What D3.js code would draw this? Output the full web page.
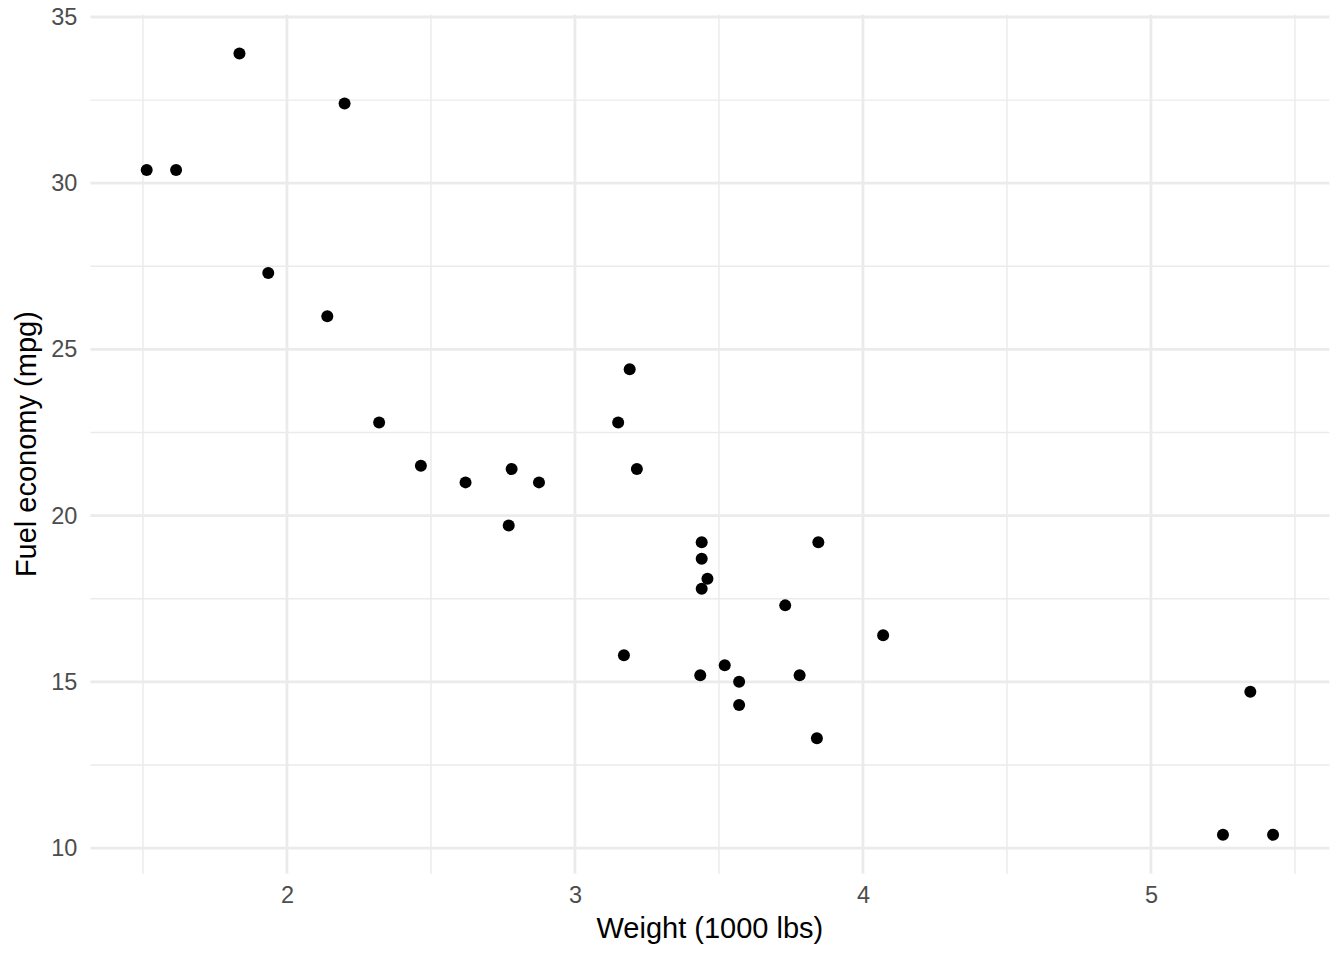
<!DOCTYPE html>
<html>
<head>
<meta charset="utf-8">
<script src="https://cdn.jsdelivr.net/npm/d3@7"></script>
<style>
  body { margin: 0; background: #fff; }
  svg { display: block; font-family: "Liberation Sans", Arial, sans-serif; }
</style>
</head>
<body>
<svg id="chart"></svg>
<script>
const width = 1344,
  height = 960

// mtcars: weight (1000 lbs) and fuel economy (mpg)
const weight = [2.620, 2.875, 2.320, 3.215, 3.440, 3.460, 3.570, 3.190, 3.150, 3.440,
  3.440, 4.070, 3.730, 3.780, 5.250, 5.424, 5.345, 2.200, 1.615, 1.835,
  2.465, 3.520, 3.435, 3.840, 3.845, 1.935, 2.140, 1.513, 3.170, 2.770,
  3.570, 2.780]
const mpg = [21.0, 21.0, 22.8, 21.4, 18.7, 18.1, 14.3, 24.4, 22.8, 19.2,
  17.8, 16.4, 17.3, 15.2, 10.4, 10.4, 14.7, 32.4, 30.4, 33.9,
  21.5, 15.5, 15.2, 13.3, 19.2, 27.3, 26.0, 30.4, 15.8, 19.7,
  15.0, 21.4]

const xTicks = [2, 3, 4, 5],
  xMinor = [1.5, 2.5, 3.5, 4.5, 5.5],
  yTicks = [10, 15, 20, 25, 30, 35],
  yMinor = [12.5, 17.5, 22.5, 27.5, 32.5]

const xTitle = 'Weight (1000 lbs)',
  yTitle = 'Fuel economy (mpg)'

const margin = { top: 14.5, right: 14.6, bottom: 86.2, left: 90.4 }

let points = weight.map((w, i) => ({ wt: w, mpg: mpg[i] }))

// ggplot-style 5% expansion
let pad = (ext) => {
  let d = (ext[1] - ext[0]) * 0.05
  return [ext[0] - d, ext[1] + d]
}

let x = d3.scaleLinear()
  .domain(pad(d3.extent(weight)))
  .range([margin.left, width - margin.right])

let y = d3.scaleLinear()
  .domain(pad(d3.extent(mpg)))
  .range([height - margin.bottom, margin.top])

let svg = d3.select('#chart')
  .attr('width', width)
  .attr('height', height)

let grid = svg.append('g').attr('class', 'grid')

// minor grid
grid.selectAll('line.xminor')
  .data(xMinor.filter(v => v >= x.domain()[0] && v <= x.domain()[1]))
  .enter().append('line')
    .attr('x1', d => x(d)).attr('x2', d => x(d))
    .attr('y1', margin.top).attr('y2', height - margin.bottom)
    .attr('stroke', '#ebebeb').attr('stroke-width', 1.4)

grid.selectAll('line.yminor')
  .data(yMinor)
  .enter().append('line')
    .attr('y1', d => y(d)).attr('y2', d => y(d))
    .attr('x1', margin.left).attr('x2', width - margin.right)
    .attr('stroke', '#ebebeb').attr('stroke-width', 1.4)

// major grid
grid.selectAll('line.xmajor')
  .data(xTicks)
  .enter().append('line')
    .attr('x1', d => x(d)).attr('x2', d => x(d))
    .attr('y1', margin.top).attr('y2', height - margin.bottom)
    .attr('stroke', '#ebebeb').attr('stroke-width', 2.8)

grid.selectAll('line.ymajor')
  .data(yTicks)
  .enter().append('line')
    .attr('y1', d => y(d)).attr('y2', d => y(d))
    .attr('x1', margin.left).attr('x2', width - margin.right)
    .attr('stroke', '#ebebeb').attr('stroke-width', 2.8)

// axes, no domain line or ticks (theme_minimal)
let xAxis = svg.append('g')
  .attr('transform', `translate(0,${height - margin.bottom})`)
  .call(d3.axisBottom(x).tickValues(xTicks).tickFormat(d3.format('d')).tickSize(0).tickPadding(13))
xAxis.select('.domain').remove()
xAxis.selectAll('text')
  .attr('fill', '#4d4d4d')
  .style('font-size', '23.5px')
  .style('font-family', '"Liberation Sans", Arial, sans-serif')

let yAxis = svg.append('g')
  .attr('transform', `translate(${margin.left},0)`)
  .call(d3.axisLeft(y).tickValues(yTicks).tickFormat(d3.format('d')).tickSize(0).tickPadding(13))
yAxis.select('.domain').remove()
yAxis.selectAll('text')
  .attr('fill', '#4d4d4d')
  .style('font-size', '23.5px')
  .style('font-family', '"Liberation Sans", Arial, sans-serif')

svg.append('g').attr('class', 'points')
  .selectAll('circle')
  .data(points)
  .enter().append('circle')
    .attr('cx', d => x(d.wt))
    .attr('cy', d => y(d.mpg))
    .attr('r', 6)
    .attr('fill', '#000')

svg.append('text')
  .attr('x', (margin.left + width - margin.right) / 2)
  .attr('y', 938)
  .attr('text-anchor', 'middle')
  .style('font-size', '29px')
  .attr('fill', '#000')
  .text(xTitle)

svg.append('text')
  .attr('transform', `translate(36,${(margin.top + height - margin.bottom) / 2}) rotate(-90)`)
  .attr('text-anchor', 'middle')
  .style('font-size', '29px')
  .attr('fill', '#000')
  .text(yTitle)
</script>
</body>
</html>
